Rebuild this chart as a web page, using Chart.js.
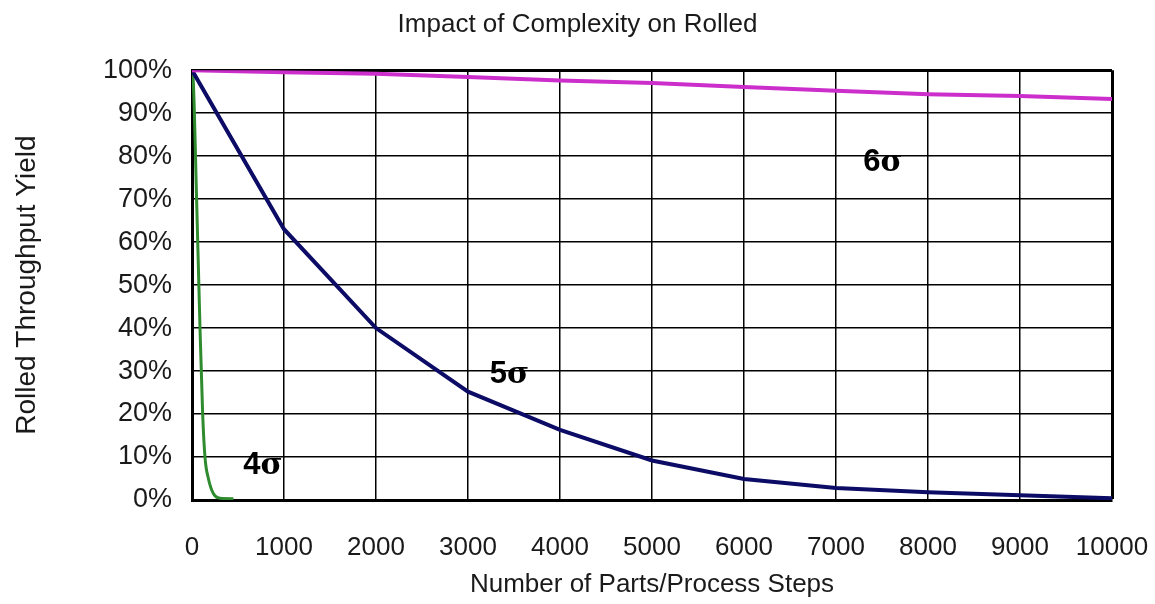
<!DOCTYPE html>
<html>
<head>
<meta charset="utf-8">
<script src="https://cdn.jsdelivr.net/npm/chart.js@4"></script>
<style>
  html, body { margin: 0; padding: 0; background: #fff; }
  #wrap { width: 1155px; height: 604px; }
</style>
</head>
<body>
<div id="wrap"><canvas id="chart"></canvas></div>
<script>
// datos
const steps = [0, 1000, 2000, 3000, 4000, 5000, 6000, 7000, 8000, 9000, 10000]
const yield6 = [100, 99.5, 99.2, 98.4, 97.6, 97.0, 96.1, 95.2, 94.4, 94.0, 93.3]
const yield5 = [100, 63, 40, 25.2, 16.3, 9.2, 4.9, 2.8, 1.8, 1.1, 0.4]
const steps4 = [0, 15, 50, 87, 116, 141, 178, 232, 304, 450]
const yield4 = [100, 97, 70, 40, 20, 10, 5, 1.5, 0.4, 0.3]
const xTicks = [0, 1000, 2000, 3000, 4000, 5000, 6000, 7000, 8000, 9000, 10000]
const yTicks = [0, 10, 20, 30, 40, 50, 60, 70, 80, 90, 100]

const SANS = "'Liberation Sans', Arial, sans-serif"
const SERIF = "'DejaVu Serif', 'Liberation Serif', serif"
const TEXT = '#1a1a1a'

const toPts = (xs, ys) => xs.map((x, i) => ({ x: x, y: ys[i] }))

// etiquetas 4σ / 5σ / 6σ (número en sans, sigma en serif)
const sigmaLabels = {
  id: 'sigmaLabels',
  afterDatasetsDraw(chart) {
    const { ctx, scales: { x, y } } = chart
    const items = [
      { num: '4', at: [772, 8.7] },
      { num: '5', at: [3450, 29.7] },
      { num: '6', at: [7511, 79.2] }
    ]
    ctx.save()
    ctx.fillStyle = '#000'
    ctx.textBaseline = 'alphabetic'
    ctx.textAlign = 'left'
    items.forEach(it => {
      const cx = x.getPixelForValue(it.at[0])
      const cy = y.getPixelForValue(it.at[1])
      ctx.font = 'bold 31px ' + SANS
      const w1 = ctx.measureText(it.num).width
      ctx.font = 'bold 30px ' + SERIF
      const w2 = ctx.measureText('σ').width
      const left = cx - (w1 + w2) / 2
      const base = cy + 11
      ctx.font = 'bold 31px ' + SANS
      ctx.fillText(it.num, left, base)
      ctx.font = 'bold 30px ' + SERIF
      ctx.fillText('σ', left + w1, base)
    })
    ctx.restore()
  }
}

const ctx = document.getElementById('chart')
new Chart(ctx, {
  type: 'line',
  data: {
    datasets: [
      {
        label: '6 sigma',
        data: toPts(steps, yield6),
        borderColor: '#cc2ecc',
        borderWidth: 4,
        pointRadius: 0,
        tension: 0
      },
      {
        label: '5 sigma',
        data: toPts(steps, yield5),
        borderColor: '#0c0c66',
        borderWidth: 4,
        pointRadius: 0,
        tension: 0
      },
      {
        label: '4 sigma',
        data: toPts(steps4, yield4),
        borderColor: '#2e8b2e',
        borderWidth: 3,
        pointRadius: 0,
        cubicInterpolationMode: 'monotone'
      }
    ]
  },
  options: {
    responsive: true,
    maintainAspectRatio: false,
    animation: false,
    layout: { padding: 0 },
    plugins: {
      legend: { display: false },
      tooltip: { enabled: false },
      title: {
        display: true,
        text: 'Impact of Complexity on Rolled',
        color: TEXT,
        font: { family: SANS, size: 26, weight: 'normal' },
        padding: { top: 9, bottom: 30 }
      }
    },
    scales: {
      x: {
        type: 'linear',
        min: 0,
        max: 10000,
        afterFit: s => { s.height = 104; s.paddingRight = 43; s.paddingLeft = 0 },
        afterBuildTicks: s => { s.ticks = xTicks.map(v => ({ value: v })) },
        ticks: {
          color: TEXT,
          padding: 32,
          maxRotation: 0,
          autoSkip: false,
          font: { family: SANS, size: 26 },
          callback: v => String(v)
        },
        grid: {
          color: '#000',
          lineWidth: c => (c.tick && c.tick.value === 10000 ? 3 : 1.5),
          drawTicks: false
        },
        border: { color: '#000', width: 3 },
        title: {
          display: true,
          text: 'Number of Parts/Process Steps',
          color: TEXT,
          font: { family: SANS, size: 26 },
          padding: { top: 0, bottom: 4 }
        }
      },
      y: {
        min: 0,
        max: 100,
        afterFit: s => { s.width = 192 },
        afterBuildTicks: s => { s.ticks = yTicks.map(v => ({ value: v })) },
        ticks: {
          color: TEXT,
          padding: 20,
          font: { family: SANS, size: 27 },
          callback: v => v + '%'
        },
        grid: {
          color: '#000',
          lineWidth: c => (c.tick && c.tick.value === 100 ? 3 : 1.5),
          drawTicks: false
        },
        border: { color: '#000', width: 3 },
        title: {
          display: true,
          text: 'Rolled Throughput Yield',
          color: TEXT,
          font: { family: SANS, size: 28 },
          padding: { top: 10, bottom: 0 }
        }
      }
    }
  },
  plugins: [sigmaLabels]
})
</script>
</body>
</html>
